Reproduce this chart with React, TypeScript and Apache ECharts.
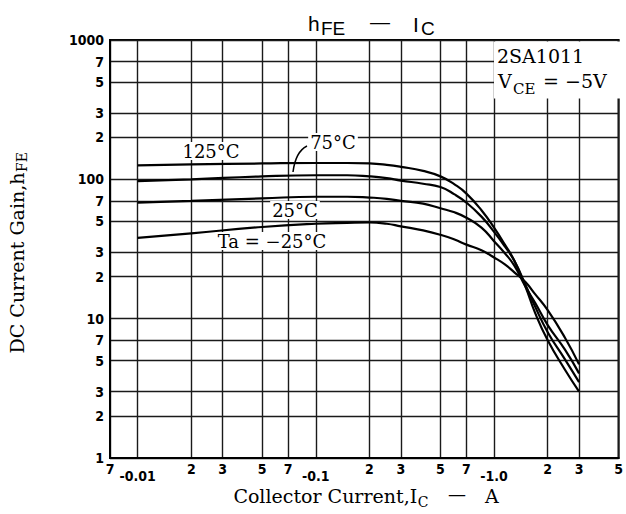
import React, { useEffect, useRef } from 'react';
import * as echarts from 'echarts';

// Axis ticks (collector current in A, shown as magnitudes; DC current gain)
const currentTicks = [0.007, 0.01, 0.02, 0.03, 0.05, 0.07, 0.1, 0.2, 0.3, 0.5, 0.7, 1, 2, 3, 5];
const currentTickLabels = ['7', '-0.01', '2', '3', '5', '7', '-0.1', '2', '3', '5', '7', '-1.0', '2', '3', '5'];
const gainTicks = [1, 2, 3, 5, 7, 10, 20, 30, 50, 70, 100, 200, 300, 500, 700, 1000];
const gainTickLabels = ['1', '2', '3', '5', '7', '10', '2', '3', '5', '7', '100', '2', '3', '5', '7', '1000'];

// Curves: |IC| (A) vs hFE
const currentA = [0.01, 0.02, 0.05, 0.1, 0.15, 0.2, 0.25, 0.3, 0.4, 0.5, 0.6, 0.7, 0.85, 1.0, 1.15, 1.3, 1.5, 1.7, 2.0, 2.5, 3.0];
const hfe125C = [126, 128, 130, 131, 131, 130, 127, 123, 115, 105, 92, 79, 60, 45, 34, 26, 17, 11, 7, 4.3, 3.0];
const hfe75C = [97, 100, 105, 107, 107, 105, 102, 98, 93, 88, 78, 68, 54, 42, 33, 26, 17.5, 12.2, 8, 5.1, 3.5];
const hfe25C = [68, 70, 73, 75, 75, 74, 72.5, 70, 67, 62, 58, 53, 45, 36, 29.5, 24, 17, 13, 9, 6, 4.05];
const hfeM25C = [38, 41, 45.5, 48, 48.7, 49, 48, 46, 43, 40, 37, 34, 31, 27.5, 24.5, 21.5, 18.3, 15, 11.5, 7.3, 4.7];
const curveNames = ['125°C', '75°C', '25°C', 'Ta = −25°C'];

const SERIF = "'DejaVu Serif', 'Liberation Serif', serif";
const SANS = "'Liberation Sans', 'DejaVu Sans', sans-serif";
const COND = "'DejaVu Sans Condensed', 'Liberation Sans Narrow', 'DejaVu Sans', sans-serif";

function measure(text: string, size: number, family: string): number {
  const c = document.createElement('canvas');
  const ctx = c.getContext('2d');
  if (!ctx) return text.length * size * 0.6;
  ctx.font = `${size}px ${family}`;
  return ctx.measureText(text).width;
}

function nearestLabel(ticks: number[], labels: string[], v: number): string {
  let best = 0;
  let bd = Infinity;
  ticks.forEach((t, i) => {
    const d = Math.abs(Math.log10(t) - Math.log10(v));
    if (d < bd) {
      bd = d;
      best = i;
    }
  });
  return labels[best];
}

export default function App() {
  const ref = useRef<HTMLDivElement>(null);

  useEffect(() => {
    if (!ref.current) return;
    const chart = echarts.init(ref.current, undefined, { renderer: 'svg' });

    const txt = (x: number, y: number, text: string, size: number, family: string, extra: any = {}, rotation = 0) => ({
      type: 'text',
      x,
      y,
      rotation,
      z: 20,
      style: {
        text,
        fontSize: size,
        fontFamily: family,
        fill: '#000',
        textAlign: 'left',
        textVerticalAlign: 'middle',
        ...extra,
      },
    });

    // Y title: "DC Current Gain,h" + sub "FE", rotated
    const yMain = 'DC Current Gain,h';
    const yMainW = measure(yMain, 19, SERIF);
    const ySubW = measure('FE', 14, SERIF);
    const yTot = yMainW + ySubW;
    const yStart = 253 + yTot / 2;

    // X title
    const xMain = 'Collector Current,I';
    const xMainW = measure(xMain, 19, SERIF);
    const xSubW = measure('C', 14, SERIF);
    const dashW = measure('—', 18, SERIF);
    const aW = measure('A', 19, SERIF);
    const xTot = xMainW + xSubW + 20 + dashW + 19 + aW;
    const xStart = 366 - xTot / 2;

    const series = [hfe125C, hfe75C, hfe25C, hfeM25C].map((vals, k) => ({
      type: 'line',
      name: curveNames[k],
      data: currentA.map((c, i) => [c, vals[i]]),
      smooth: 0.5,
      symbol: 'none',
      showSymbol: false,
      silent: true,
      z: 3,
      lineStyle: { color: '#000', width: 2.2 },
    }));

    const tickStyle = { fontFamily: COND, fontWeight: 'bold', fontSize: 14, color: '#000' };

    chart.setOption({
      animation: false,
      backgroundColor: '#fff',
      grid: {
        left: 110,
        right: 4,
        top: 40,
        bottom: 56,
        show: true,
        borderColor: '#000',
        borderWidth: 2,
      },
      xAxis: {
        type: 'log',
        logBase: 10,
        min: 0.007,
        max: 5,
        axisLine: { show: true, onZero: false, lineStyle: { color: '#000', width: 2 } },
        axisTick: { show: false, customValues: currentTicks },
        axisLabel: {
          customValues: currentTicks,
          margin: 4,
          ...tickStyle,
          formatter: (v: number) => {
            const s = nearestLabel(currentTicks, currentTickLabels, v);
            return s.startsWith('-') ? `{d|${s}}` : `{n|${s}}`;
          },
          rich: {
            n: { ...tickStyle },
            d: { ...tickStyle, padding: [7, 0, 0, 0] },
          },
        },
        splitLine: { show: true, lineStyle: { color: '#1a1a1a', width: 1.4 } },
      },
      yAxis: {
        type: 'log',
        logBase: 10,
        min: 1,
        max: 1000,
        axisLine: { show: true, onZero: false, lineStyle: { color: '#000', width: 2 } },
        axisTick: { show: false, customValues: gainTicks },
        axisLabel: {
          customValues: gainTicks,
          margin: 6,
          ...tickStyle,
          formatter: (v: number) => nearestLabel(gainTicks, gainTickLabels, v),
        },
        splitLine: { show: true, lineStyle: { color: '#1a1a1a', width: 1.4 } },
      },
      series,
      graphic: [
        // title hFE - IC
        txt(308, 23, 'h', 21, SANS),
        txt(321, 28, 'FE', 19, SANS),
        txt(380, 22, '—', 20, SANS, { textAlign: 'center' }),
        txt(413, 24, 'I', 21, SANS),
        txt(421, 28, 'C', 19, SANS),
        // spec box
        {
          type: 'rect',
          z: 15,
          shape: { x: 494, y: 41.5, width: 126, height: 57 },
          style: { fill: '#fff' },
        },
        txt(497, 55.5, '2SA1011', 19, SERIF),
        txt(498, 81, 'V', 19, SERIF),
        txt(513, 88.5, 'CE', 15, SERIF),
        txt(543, 81, '= −5V', 19, SERIF),
        // curve labels
        txt(211, 151, curveNames[0], 18, SERIF, { textAlign: 'center', backgroundColor: '#fff', padding: [0, 2] }),
        txt(333, 142, curveNames[1], 18, SERIF, { textAlign: 'center', backgroundColor: '#fff', padding: [0, 2] }),
        txt(295, 210, curveNames[2], 18, SERIF, { textAlign: 'center', backgroundColor: '#fff', padding: [0, 2] }),
        txt(272, 241, curveNames[3], 18, SERIF, { textAlign: 'center', backgroundColor: '#fff', padding: [0, 2] }),
        {
          type: 'bezierCurve',
          z: 20,
          shape: { x1: 293, y1: 172, cpx1: 294.5, cpy1: 160, cpx2: 299, cpy2: 150, x2: 307, y2: 146 },
          style: { stroke: '#000', lineWidth: 1.5, fill: 'none' },
        },
        // y-axis title
        txt(17, yStart - yMainW / 2, yMain, 19, SERIF, { textAlign: 'center' }, Math.PI / 2),
        txt(22, yStart - yMainW - ySubW / 2 - 0.5, 'FE', 14, SERIF, { textAlign: 'center' }, Math.PI / 2),
        // x-axis title
        txt(xStart, 496, xMain, 19, SERIF),
        txt(xStart + xMainW + 0.5, 502, 'C', 14, SERIF),
        txt(xStart + xMainW + xSubW + 20, 494, '—', 18, SERIF),
        txt(xStart + xMainW + xSubW + 20 + dashW + 19, 496, 'A', 19, SERIF),
      ],
    });

    return () => chart.dispose();
  }, []);

  return (
    <div
      ref={ref}
      style={{ position: 'absolute', left: 0, top: 0, width: 626, height: 514, background: '#fff' }}
    />
  );
}
